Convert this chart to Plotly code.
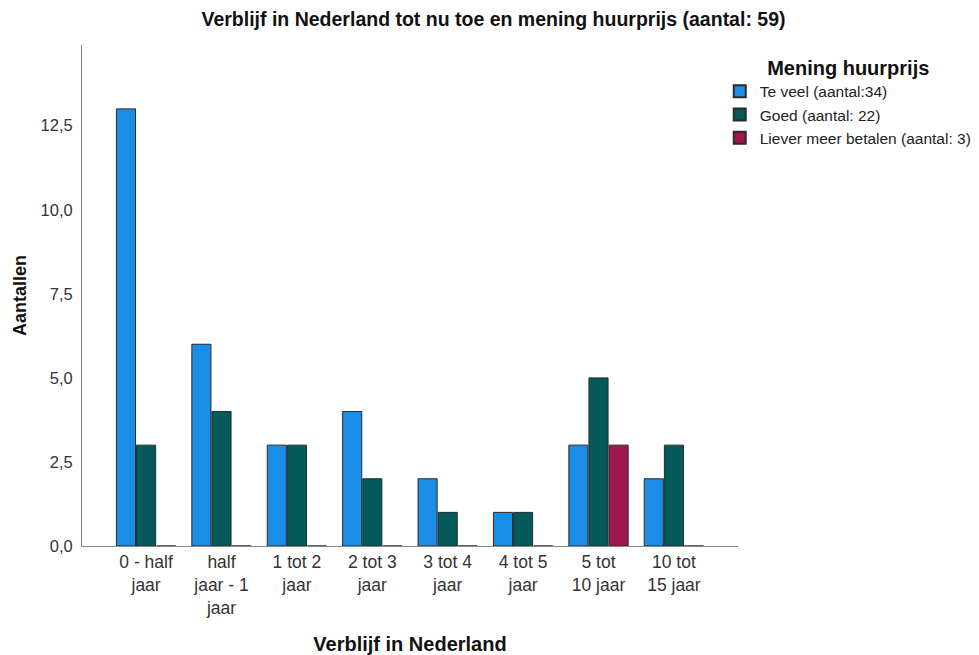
import plotly.graph_objects as go

categories = ["0 - half<br>jaar", "half<br>jaar - 1<br>jaar", "1 tot 2<br>jaar", "2 tot 3<br>jaar",
              "3 tot 4<br>jaar", "4 tot 5<br>jaar", "5 tot<br>10 jaar", "10 tot<br>15 jaar"]
te_veel = [13, 6, 3, 4, 2, 1, 3, 2]
goed = [3, 4, 3, 2, 1, 1, 5, 3]
liever = [0, 0, 0, 0, 0, 0, 3, 0]
series_names = ["Te veel (aantal:34)", "Goed (aantal: 22)", "Liever meer betalen (aantal: 3)"]
colors = ["#1a8ee6", "#045a5a", "#a0164f"]
y_ticks = [0, 2.5, 5, 7.5, 10, 12.5]

FONT = "Liberation Sans, Arial, sans-serif"

fig = go.Figure()
for name, vals, col in zip(series_names, [te_veel, goed, liever], colors):
    fig.add_trace(go.Bar(
        x=list(range(len(categories))), y=vals, name=name,
        marker=dict(color=col, line=dict(color="#2a2a2a", width=1)),
    ))

fig.update_layout(
    width=971, height=647,
    paper_bgcolor="white", plot_bgcolor="white",
    font=dict(family=FONT, size=14, color="#222"),
    separators=",.",
    title=dict(text="<b>Verblijf in Nederland tot nu toe en mening huurprijs (aantal: 59)</b>",
               x=0.5, xanchor="center", y=0.983, yanchor="middle", font=dict(size=19.5, color="#111")),
    margin=dict(l=74, r=241, t=37, b=109, autoexpand=False),
    barmode="group", bargap=0.2, bargroupgap=0.05,
    showlegend=True,
    legend=dict(
        xref="container", yref="container",
        x=0.733, xanchor="left", y=0.937, yanchor="top",
        title=dict(text="<b>Mening huurprijs</b>", side="top center", font=dict(size=20, color="#111")),
        font=dict(size=15.5, color="#222"), tracegroupgap=0, itemsizing="constant",
        bgcolor="rgba(0,0,0,0)",
    ),
    xaxis=dict(
        tickmode="array", tickvals=list(range(len(categories))), ticktext=categories,
        range=[-0.85, 7.85], showline=True, linecolor="#888", linewidth=1, automargin=False,
        showgrid=False, zeroline=False, ticks="", tickfont=dict(size=17.5, color="#333"),
        title=dict(text="<b>Verblijf in Nederland</b>", font=dict(size=20, color="#111"), standoff=22),
    ),
    yaxis=dict(
        range=[0, 14.9], tickvals=y_ticks, tickformat=".1f", automargin=False,
        showline=True, linecolor="#888", linewidth=1, showgrid=False, zeroline=False,
        ticks="", tickfont=dict(size=16.5, color="#333"), ticklabelstandoff=5,
        title=dict(text="<b>Aantallen</b>", font=dict(size=18, color="#111"), standoff=9),
    ),
)

fig.write_html("out.html")
